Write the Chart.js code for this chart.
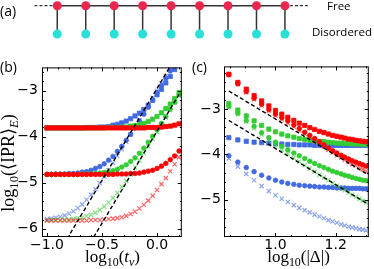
<!DOCTYPE html>
<html>
<head>
<meta charset="utf-8">
<script src="https://cdn.jsdelivr.net/npm/chart.js@4.4.1/dist/chart.umd.min.js"></script>
<style>
  body { margin: 0; background: #fff; }
  #wrap { position: relative; width: 374px; height: 269px; overflow: hidden; }
  canvas { position: absolute; }
</style>
</head>
<body>
<div id="wrap">
  <canvas id="chainChart" width="374" height="52" style="left:0px;top:0px"></canvas>
  <canvas id="tvChart" width="187" height="214" style="left:0px;top:55px"></canvas>
  <canvas id="deltaChart" width="187" height="214" style="left:187px;top:55px"></canvas>
</div>
<script>
// (a) chain sketch
const sites = [1, 2, 3, 4, 5, 6, 7, 8, 9];
const freeRow = 1;
const disorderedRow = 0;
const leadLeft = [0.2, 1];
const leadRight = [9, 9.8];

// (b) log10(t_v) scan
const xB = [-1.00, -0.96, -0.92, -0.88, -0.84, -0.80, -0.76, -0.72, -0.68, -0.64, -0.60,
  -0.56, -0.52, -0.48, -0.44, -0.40, -0.36, -0.32, -0.28, -0.24, -0.20, -0.16, -0.12,
  -0.08, -0.04, 0.00, 0.04, 0.08, 0.12, 0.16, 0.20];
const blueSqB = [-3.81, -3.81, -3.81, -3.81, -3.81, -3.81, -3.81, -3.81, -3.81, -3.80, -3.80,
  -3.80, -3.79, -3.79, -3.78, -3.75, -3.73, -3.70, -3.66, -3.61, -3.55, -3.49, -3.41,
  -3.32, -3.21, -3.09, -2.97, -2.83, -2.69, -2.54, -2.39];
const blueCiB = [-4.82, -4.82, -4.81, -4.81, -4.81, -4.80, -4.80, -4.79, -4.77, -4.76, -4.73,
  -4.69, -4.65, -4.59, -4.51, -4.43, -4.32, -4.21, -4.08, -3.95, -3.81, -3.66, -3.51,
  -3.36, -3.20, -3.04, -2.89, -2.73, -2.57, -2.41, -2.25];
const blueXB = [-5.79, -5.78, -5.76, -5.74, -5.71, -5.67, -5.62, -5.55, -5.47, -5.37, -5.26,
  -5.14, -5.01, -4.87, -4.72, -4.57, -4.42, -4.27, -4.11, -3.95, -3.80, -3.64, -3.48,
  -3.32, -3.16, -3.00, -2.84, -2.68, -2.52, -2.36, -2.20];
const greenSqB = [-3.81, -3.81, -3.81, -3.81, -3.81, -3.81, -3.81, -3.81, -3.81, -3.81, -3.81,
  -3.81, -3.81, -3.81, -3.80, -3.80, -3.80, -3.79, -3.79, -3.77, -3.76, -3.74, -3.71,
  -3.67, -3.62, -3.56, -3.48, -3.39, -3.29, -3.17, -3.04];
const greenCiB = [-4.82, -4.82, -4.82, -4.82, -4.82, -4.82, -4.82, -4.82, -4.81, -4.81, -4.81,
  -4.80, -4.79, -4.78, -4.76, -4.74, -4.71, -4.66, -4.61, -4.54, -4.46, -4.36, -4.25,
  -4.12, -3.99, -3.85, -3.71, -3.56, -3.40, -3.25, -3.09];
const greenXB = [-5.82, -5.81, -5.81, -5.81, -5.80, -5.80, -5.79, -5.77, -5.76, -5.73, -5.70,
  -5.65, -5.59, -5.52, -5.43, -5.33, -5.22, -5.09, -4.96, -4.82, -4.67, -4.52, -4.36,
  -4.21, -4.05, -3.90, -3.74, -3.58, -3.42, -3.26, -3.10];
const redSqB = [-3.81, -3.81, -3.81, -3.81, -3.81, -3.81, -3.81, -3.81, -3.81, -3.81, -3.81,
  -3.81, -3.81, -3.81, -3.81, -3.81, -3.81, -3.81, -3.81, -3.81, -3.81, -3.81, -3.81,
  -3.80, -3.80, -3.80, -3.79, -3.78, -3.77, -3.75, -3.72];
const redCiB = [-4.82, -4.82, -4.82, -4.82, -4.82, -4.82, -4.82, -4.82, -4.82, -4.82, -4.82,
  -4.82, -4.82, -4.82, -4.82, -4.82, -4.81, -4.81, -4.81, -4.80, -4.80, -4.79, -4.77,
  -4.75, -4.73, -4.69, -4.64, -4.58, -4.50, -4.42, -4.31];
const redXB = [-5.82, -5.82, -5.82, -5.82, -5.82, -5.82, -5.82, -5.82, -5.82, -5.82, -5.81,
  -5.81, -5.81, -5.80, -5.79, -5.78, -5.77, -5.75, -5.72, -5.68, -5.63, -5.56, -5.48,
  -5.39, -5.28, -5.16, -5.03, -4.90, -4.75, -4.60, -4.45];
const fitBX = [-1.0, 0.2];
const fitB1 = [-6.95, -2.15];
const fitB2 = [-7.88, -3.08];

// (c) log10(|Delta|) scan
const xC = [0.845, 0.875, 0.903, 0.929, 0.954, 0.978, 1.000, 1.021, 1.041, 1.061, 1.079,
  1.097, 1.114, 1.130, 1.146, 1.161, 1.176, 1.190, 1.204, 1.218, 1.230, 1.243, 1.255,
  1.267, 1.279, 1.290, 1.301];
const redSqC = [-2.23, -2.41, -2.56, -2.70, -2.82, -2.93, -3.03, -3.11, -3.18, -3.25, -3.31,
  -3.36, -3.41, -3.45, -3.49, -3.52, -3.55, -3.58, -3.60, -3.62, -3.64, -3.66, -3.67,
  -3.69, -3.70, -3.71, -3.72];
const redCiC = [-2.24, -2.44, -2.61, -2.76, -2.89, -3.01, -3.11, -3.19, -3.26, -3.35, -3.43,
  -3.51, -3.58, -3.65, -3.72, -3.79, -3.86, -3.92, -3.97, -4.02, -4.06, -4.10, -4.14,
  -4.17, -4.20, -4.23, -4.26];
const redXC = [-2.25, -2.45, -2.63, -2.78, -2.92, -3.04, -3.14, -3.23, -3.31, -3.39, -3.47,
  -3.55, -3.62, -3.69, -3.76, -3.83, -3.90, -3.96, -4.02, -4.07, -4.12, -4.17, -4.21,
  -4.25, -4.29, -4.33, -4.37];
const greenSqC = [-2.88, -3.02, -3.15, -3.26, -3.36, -3.44, -3.50, -3.55, -3.59, -3.62, -3.65,
  -3.67, -3.69, -3.70, -3.71, -3.72, -3.73, -3.74, -3.75, -3.75, -3.76, -3.76, -3.77,
  -3.77, -3.77, -3.78, -3.78];
const greenCiC = [-2.94, -3.09, -3.25, -3.38, -3.52, -3.63, -3.73, -3.82, -3.90, -3.97, -4.03,
  -4.09, -4.15, -4.20, -4.25, -4.29, -4.33, -4.37, -4.40, -4.43, -4.46, -4.48, -4.51,
  -4.53, -4.55, -4.57, -4.58];
const greenXC = [-2.95, -3.11, -3.28, -3.42, -3.56, -3.69, -3.80, -3.90, -3.99, -4.08, -4.16,
  -4.24, -4.31, -4.38, -4.45, -4.51, -4.57, -4.63, -4.69, -4.74, -4.79, -4.84, -4.89,
  -4.94, -4.98, -5.02, -5.06];
const blueSqC = [-3.63, -3.68, -3.71, -3.73, -3.74, -3.75, -3.76, -3.77, -3.78, -3.78, -3.79,
  -3.79, -3.79, -3.80, -3.80, -3.80, -3.80, -3.80, -3.80, -3.80, -3.80, -3.80, -3.80,
  -3.80, -3.80, -3.80, -3.80];
const blueCiC = [-4.03, -4.17, -4.29, -4.38, -4.46, -4.52, -4.57, -4.61, -4.64, -4.66, -4.68,
  -4.69, -4.70, -4.71, -4.72, -4.72, -4.73, -4.73, -4.74, -4.74, -4.74, -4.75, -4.75,
  -4.75, -4.75, -4.76, -4.76];
const blueXC = [-4.09, -4.27, -4.43, -4.57, -4.70, -4.81, -4.90, -4.98, -5.05, -5.12, -5.18,
  -5.23, -5.28, -5.33, -5.37, -5.41, -5.45, -5.48, -5.51, -5.54, -5.57, -5.59, -5.61,
  -5.63, -5.65, -5.66, -5.68];
const fitCX = [0.845, 1.301];
const fitC1 = [-2.60, -4.42];
const fitC2 = [-3.25, -5.07];

const RED = 'rgb(255,0,0)';
const GREEN = 'rgb(50,205,50)';
const BLUE = 'rgb(65,105,225)';
const fade = c => c.replace('rgb(', 'rgba(').replace(')', ',0.6)');

const pts = (xs, ys) => xs.map((x, i) => ({ x, y: ys[i] }));

function marks(xs, ys, color, kind) {
  const d = { data: pts(xs, ys), showLine: false, pointStyle: kind };
  if (kind === 'crossRot') {
    d.pointRadius = 3; d.pointBorderWidth = 1.2;
    d.pointBorderColor = fade(color); d.pointBackgroundColor = fade(color);
  } else {
    d.pointRadius = kind === 'rect' ? 3 : 2.3;
    d.pointBorderWidth = 0.8;
    d.pointBorderColor = color; d.pointBackgroundColor = color;
  }
  return d;
}

function fit(xs, ys) {
  return { data: pts(xs, ys), showLine: true, borderColor: '#000', borderWidth: 1.4,
    borderDash: [4, 2.5], pointRadius: 0 };
}

function richText(ctx, t) {
  const parts = t.segs.map(s => {
    const fs = s.sub ? t.size * 0.7 : t.size;
    const font = (s.it ? 'italic ' : '') + fs + 'px ' + t.family;
    ctx.font = font;
    return { s, font, w: ctx.measureText(s.t).width, dy: s.sub ? t.size * 0.22 : 0 };
  });
  const total = parts.reduce((a, p) => a + p.w, 0);
  ctx.save();
  ctx.translate(t.x, t.y);
  if (t.rot) ctx.rotate(-Math.PI / 2);
  let cx = t.align === 'left' ? 0 : -total / 2;
  ctx.fillStyle = '#000';
  ctx.textAlign = 'left';
  ctx.textBaseline = 'alphabetic';
  parts.forEach(p => { ctx.font = p.font; ctx.fillText(p.s.t, cx, p.dy); cx += p.w; });
  ctx.restore();
}

// frame, inward ticks on all sides, labels
const decor = {
  id: 'decor',
  afterDraw(chart, args, o) {
    const ctx = chart.ctx;
    const a = chart.chartArea;
    if (o.frame) {
      const { x, y } = chart.scales;
      const split = (scale, step) => {
        const major = scale.ticks.map(t => t.value);
        const minor = [];
        for (let k = Math.ceil(scale.min / step - 1e-9); k * step <= scale.max + 1e-9; k++) {
          const v = k * step;
          if (!major.some(m => Math.abs(m - v) < step / 10)) minor.push(v);
        }
        return { major, minor };
      };
      ctx.save();
      ctx.strokeStyle = '#000';
      ctx.lineWidth = 1;
      ctx.beginPath();
      const xs = split(x, o.xMinor);
      const ys = split(y, o.yMinor);
      [[xs.major, 4], [xs.minor, 2]].forEach(([vals, len]) => vals.forEach(v => {
        const p = Math.round(x.getPixelForValue(v)) + 0.5;
        ctx.moveTo(p, a.bottom); ctx.lineTo(p, a.bottom - len);
        ctx.moveTo(p, a.top); ctx.lineTo(p, a.top + len);
      }));
      [[ys.major, 4], [ys.minor, 2]].forEach(([vals, len]) => vals.forEach(v => {
        const p = Math.round(y.getPixelForValue(v)) + 0.5;
        ctx.moveTo(a.left, p); ctx.lineTo(a.left + len, p);
        ctx.moveTo(a.right, p); ctx.lineTo(a.right - len, p);
      }));
      ctx.stroke();
      ctx.strokeRect(a.left + 0.5, a.top + 0.5, a.right - a.left - 1, a.bottom - a.top - 1);
      ctx.restore();
    }
    (o.texts || []).forEach(t => richText(ctx, t));
  }
};

const minus = v => (v < 0 ? '\u2212' : '') + Math.abs(v);
const minus1 = v => (v < 0 ? '\u2212' : '') + Math.abs(v).toFixed(1);
const tickFont = { family: 'DejaVu Sans', size: 14 };
const titleFont = 'Liberation Serif';

function axis(min, max, step, fmt, pad, size, isX) {
  return {
    type: 'linear', min, max,
    grid: { display: false, drawTicks: false },
    border: { display: false },
    ticks: { stepSize: step, includeBounds: false, padding: pad, color: '#000', font: tickFont, callback: fmt },
    afterFit: s => { if (isX) s.height = size; else s.width = size; }
  };
}

const baseOpts = {
  responsive: false, animation: false, devicePixelRatio: 1,
  plugins: { legend: { display: false }, tooltip: { enabled: false } }
};

// (a)
new Chart(document.getElementById('chainChart'), {
  type: 'scatter',
  data: {
    datasets: [
      { data: sites.map(s => ({ x: s, y: freeRow })), showLine: true, borderColor: '#333', borderWidth: 1.5,
        pointRadius: 4.5, pointBorderWidth: 0, pointBackgroundColor: '#e8264e', clip: false },
      { data: sites.map(s => ({ x: s, y: disorderedRow })), showLine: false,
        pointRadius: 4.5, pointBorderWidth: 0, pointBackgroundColor: '#29e0d8', clip: false },
      { data: leadLeft.map(x => ({ x, y: freeRow })), showLine: true, borderColor: '#333', borderWidth: 1.3,
        borderDash: [3, 2], pointRadius: 0, clip: false },
      { data: leadRight.map(x => ({ x, y: freeRow })), showLine: true, borderColor: '#333', borderWidth: 1.3,
        borderDash: [3, 2], pointRadius: 0, clip: false },
      ...sites.map(s => ({ data: [{ x: s, y: disorderedRow }, { x: s, y: freeRow }], showLine: true,
        borderColor: '#333', borderWidth: 1.5, pointRadius: 0, clip: false }))
    ]
  },
  options: {
    ...baseOpts,
    layout: { padding: { left: 28.8, right: 60.6, top: 5.7, bottom: 18 } },
    scales: {
      x: { type: 'linear', display: false, min: 0, max: 10 },
      y: { type: 'linear', display: false, min: 0, max: 1 }
    },
    plugins: {
      ...baseOpts.plugins,
      decor: { texts: [
        { segs: [{ t: '(a)' }], x: 0, y: 15.5, size: 14, family: 'Open Sans', align: 'left' },
        { segs: [{ t: 'Free' }], x: 327, y: 9.5, size: 11.5, family: 'Open Sans', align: 'left' },
        { segs: [{ t: 'Disordered' }], x: 312, y: 36, size: 11.5, family: 'Open Sans', align: 'left' }
      ] }
    }
  },
  plugins: [decor]
});

// (b)
new Chart(document.getElementById('tvChart'), {
  type: 'scatter',
  data: {
    datasets: [
      fit(fitBX, fitB1), fit(fitBX, fitB2),
      marks(xB, redSqB, RED, 'rect'), marks(xB, redCiB, RED, 'circle'), marks(xB, redXB, RED, 'crossRot'),
      marks(xB, greenSqB, GREEN, 'rect'), marks(xB, greenCiB, GREEN, 'circle'), marks(xB, greenXB, GREEN, 'crossRot'),
      marks(xB, blueSqB, BLUE, 'rect'), marks(xB, blueCiB, BLUE, 'circle'), marks(xB, blueXB, BLUE, 'crossRot')
    ]
  },
  options: {
    ...baseOpts,
    layout: { padding: { left: 0, right: 4, top: 5, bottom: 0 } },
    scales: {
      x: axis(-1.045, 0.225, 0.5, minus1, 0, 32, true),
      y: axis(-6.18, -2.494, 1, minus, 4, 42, false)
    },
    plugins: {
      ...baseOpts.plugins,
      decor: { frame: true, xMinor: 0.1, yMinor: 0.2, texts: [
        { segs: [{ t: '(b)' }], x: 0, y: 16.5, size: 14, family: 'Open Sans', align: 'left' },
        { segs: [{ t: 'log' }, { t: '10', sub: true }, { t: '(' }, { t: 't', it: true }, { t: 'v', it: true, sub: true }, { t: ')' }],
          x: 112.5, y: 207, size: 17, family: titleFont },
        { segs: [{ t: 'log' }, { t: '10', sub: true }, { t: '(\u27e8IPR\u27e9' }, { t: 'E', it: true, sub: true }, { t: ')' }],
          x: 14, y: 108, size: 18, family: titleFont, rot: true }
      ] }
    }
  },
  plugins: [decor]
});

// (c)
new Chart(document.getElementById('deltaChart'), {
  type: 'scatter',
  data: {
    datasets: [
      fit(fitCX, fitC1), fit(fitCX, fitC2),
      marks(xC, redSqC, RED, 'rect'), marks(xC, redCiC, RED, 'circle'), marks(xC, redXC, RED, 'crossRot'),
      marks(xC, greenSqC, GREEN, 'rect'), marks(xC, greenCiC, GREEN, 'circle'), marks(xC, greenXC, GREEN, 'crossRot'),
      marks(xC, blueSqC, BLUE, 'rect'), marks(xC, blueCiC, BLUE, 'circle'), marks(xC, blueXC, BLUE, 'crossRot')
    ]
  },
  options: {
    ...baseOpts,
    layout: { padding: { left: 0, right: 1, top: 5, bottom: 0 } },
    scales: {
      x: axis(0.829, 1.31, 0.2, minus1, 0, 32, true),
      y: axis(-5.823, -2.057, 1, minus, 3, 37, false)
    },
    plugins: {
      ...baseOpts.plugins,
      decor: { frame: true, xMinor: 0.05, yMinor: 0.2, texts: [
        { segs: [{ t: '(c)' }], x: 5, y: 17, size: 14, family: 'Open Sans', align: 'left' },
        { segs: [{ t: 'log' }, { t: '10', sub: true }, { t: '(|\u0394|)' }],
          x: 111.5, y: 207, size: 17, family: titleFont }
      ] }
    }
  },
  plugins: [decor]
});
</script>
</body>
</html>
